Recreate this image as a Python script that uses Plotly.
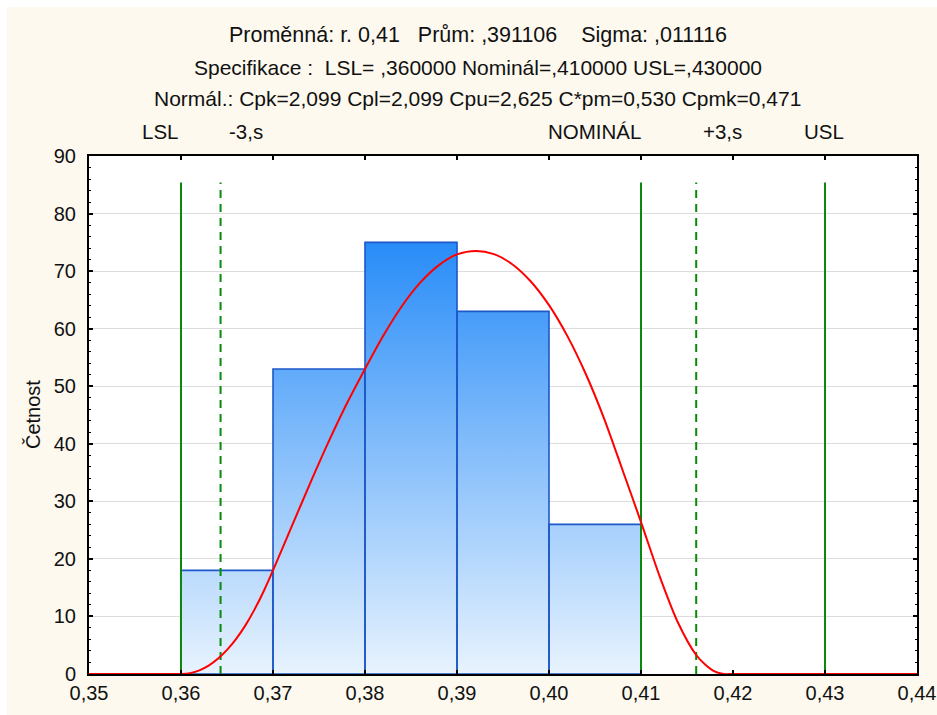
import plotly.graph_objects as go

# ---------------- data ----------------
bin_left = [0.36, 0.37, 0.38, 0.39, 0.40]
bin_right = [0.37, 0.38, 0.39, 0.40, 0.41]
counts = [18, 53, 75, 63, 26]

# fitted curve
curve_x = [0.350, 0.359, 0.360, 0.361, 0.362, 0.363, 0.364, 0.365, 0.366, 0.367, 0.368,
           0.369, 0.370, 0.372, 0.374, 0.376, 0.378, 0.380, 0.382, 0.384, 0.386,
           0.388, 0.390, 0.3921, 0.394, 0.396, 0.398, 0.400, 0.402, 0.404, 0.406,
           0.408, 0.410, 0.412, 0.414, 0.416, 0.417, 0.418, 0.419, 0.420, 0.440]
curve_y = [0, 0, 0, 0.15, 0.62, 1.45, 2.65, 4.2, 6.12, 8.45, 11.23,
           14.43, 18.0, 25.5, 33.0, 40.2, 46.9, 53.0, 58.8, 63.9, 68.0,
           71.0, 72.9, 73.5, 72.95, 71.2, 68.24, 64.08, 58.7, 52.12, 44.33,
           35.4, 26.4, 17.1, 9.0, 3.3, 1.6, 0.45, 0, 0, 0]

spec_x = [0.36, 0.41, 0.43]          # LSL, nominal, USL
sigma_x = [0.3643, 0.4160]           # -3s, +3s
line_top = 85.4

title_lines = [
    "Proměnná: r. 0,41\u00a0\u00a0\u00a0Prům: ,391106\u00a0\u00a0\u00a0\u00a0Sigma: ,011116",
    "Specifikace :\u00a0\u00a0LSL= ,360000 Nominál=,410000 USL=,430000",
    "Normál.: Cpk=2,099 Cpl=2,099 Cpu=2,625 C*pm=0,530 Cpmk=0,471",
]
marker_labels = ["LSL", "-3,s", "NOMINÁL", "+3,s", "USL"]
y_title = "Četnost"

FONT = "Liberation Sans, Arial, sans-serif"
CREAM = "#fdf9ef"
TXT = "#111111"

fig = go.Figure()

# histogram bars as gradient-filled polygons
bx, by = [], []
for l, r, c in zip(bin_left, bin_right, counts):
    bx += [l, l, r, r, l, None]
    by += [0, c, c, 0, 0, None]
fig.add_trace(go.Scatter(
    x=bx, y=by, mode="lines", fill="toself",
    line=dict(color="#1c58c8", width=1.6),
    fillgradient=dict(type="vertical",
                      colorscale=[[0, "#e8f3fe"], [1, "#288cf8"]],
                      start=0, stop=max(counts)),
    hoverinfo="skip", showlegend=False))

# spec limit lines
for xv in spec_x:
    fig.add_trace(go.Scatter(x=[xv, xv], y=[0, line_top], mode="lines",
                             line=dict(color="#0a8a0a", width=2),
                             hoverinfo="skip", showlegend=False))
for xv in sigma_x:
    fig.add_trace(go.Scatter(x=[xv, xv], y=[0, line_top], mode="lines",
                             line=dict(color="#0a8a0a", width=2, dash="8px,6px"),
                             hoverinfo="skip", showlegend=False))

# normal curve
fig.add_trace(go.Scatter(x=curve_x, y=curve_y, mode="lines",
                         line=dict(color="#ff0000", width=2, shape="spline", smoothing=0.8),
                         hoverinfo="skip", showlegend=False))

# ---- layout ----
L, R, T, B = 89, 20, 156, 41
W, H = 937, 715
pw, ph = W - L - R, H - T - B


def px(xp):
    return (xp - L) / pw


def py(yp):
    return (H - B - yp) / ph


annotations = []
for txt, yp, sz in zip(title_lines, [35, 67, 98], [21.5, 21, 21]):
    annotations.append(dict(text=txt, xref="paper", yref="paper", x=px(477.5), y=py(yp),
                            xanchor="center", yanchor="middle", showarrow=False,
                            font=dict(family=FONT, size=sz, color=TXT)))
for txt, xp in zip(marker_labels, [160, 246, 594, 722, 824]):
    annotations.append(dict(text=txt, xref="paper", yref="paper", x=px(xp), y=py(131),
                            xanchor="center", yanchor="middle", showarrow=False,
                            font=dict(family=FONT, size=20.5, color=TXT)))
annotations.append(dict(text=y_title, xref="paper", yref="paper", x=px(33), y=0.5,
                        xanchor="center", yanchor="middle", textangle=-90, showarrow=False,
                        font=dict(family=FONT, size=20, color=TXT)))

shapes = [
    dict(type="rect", xref="paper", yref="paper", x0=px(0), x1=px(W), y0=py(0), y1=py(7),
         fillcolor="white", line=dict(width=0), layer="below"),
    dict(type="rect", xref="paper", yref="paper", x0=px(0), x1=px(7), y0=py(0), y1=py(H),
         fillcolor="white", line=dict(width=0), layer="below"),
]

fig.update_layout(
    width=W, height=H, autosize=False,
    margin=dict(l=L, r=R, t=T, b=B, pad=0, autoexpand=False),
    paper_bgcolor=CREAM, plot_bgcolor="white",
    separators=", ",
    font=dict(family=FONT, size=20, color=TXT),
    annotations=annotations, shapes=shapes,
    showlegend=False,
)
fig.update_xaxes(range=[0.35, 0.44], tick0=0.35, dtick=0.01, tickformat=".2f",
                 ticks="inside", ticklen=4, tickwidth=1.5, tickcolor="black",
                 showline=True, linewidth=2, linecolor="black", mirror="ticks",
                 showgrid=False, zeroline=False, automargin=False,
                 tickfont=dict(family=FONT, size=20, color=TXT))
fig.update_yaxes(range=[0, 90], tick0=0, dtick=10, tickformat="d",
                 ticks="inside", ticklen=4, tickwidth=1.5, tickcolor="black",
                 showline=True, linewidth=2, linecolor="black", mirror="ticks",
                 showgrid=True, gridcolor="#dcdcdc", gridwidth=1, zeroline=False,
                 ticklabelstandoff=7, automargin=False,
                 minor=dict(dtick=2, ticks="inside", ticklen=2, tickcolor="black",
                            tickwidth=1.2, showgrid=False),
                 tickfont=dict(family=FONT, size=20, color=TXT))

fig.write_html("out.html")
